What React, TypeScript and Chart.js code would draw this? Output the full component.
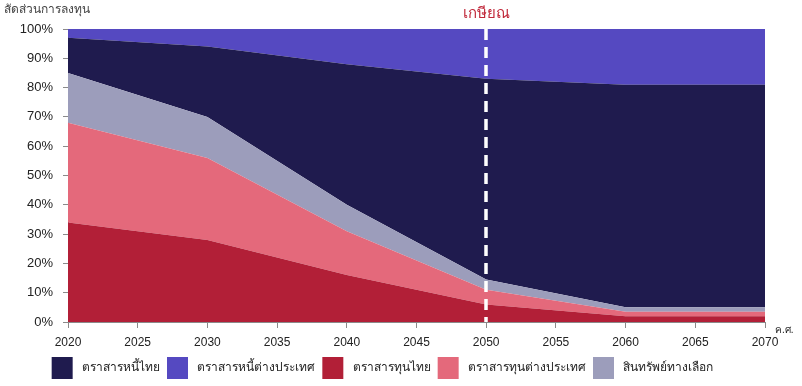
import React, { useEffect, useRef } from "react";
import { Chart, registerables } from "chart.js";

Chart.register(...registerables);

const years = [2020, 2030, 2040, 2050, 2060, 2070];
const thaiEquity = [34, 28, 16, 6, 2, 2];
const foreignEquity = [34, 28, 15, 5, 1.5, 1.5];
const alternative = [17, 14, 9, 3.5, 1.5, 1.5];
const thaiBond = [12, 24, 48, 68.5, 76, 76];
const foreignBond = [3, 6, 12, 17, 19, 19];

const labelThaiBond = "ตราสารหนี้ไทย";
const labelForeignBond = "ตราสารหนี้ต่างประเทศ";
const labelThaiEquity = "ตราสารทุนไทย";
const labelForeignEquity = "ตราสารทุนต่างประเทศ";
const labelAlt = "สินทรัพย์ทางเลือก";

const yTitle = "สัดส่วนการลงทุน";
const xUnit = "ค.ศ.";
const retireLabel = "เกษียณ";
const retireYear = 2050;

const FONT = "'Liberation Sans', 'DejaVu Sans', sans-serif";

export default function App() {
  const ref = useRef<HTMLCanvasElement | null>(null);

  useEffect(() => {
    const canvas = ref.current;
    if (!canvas) return;
    const pts = (arr: number[]) => years.map((x, i) => ({ x, y: arr[i] }));
    // stack order bottom -> top; legend order separately
    const stackDefs = [
      { label: labelThaiEquity, data: thaiEquity, color: "#b21f37", legend: 2 },
      { label: labelForeignEquity, data: foreignEquity, color: "#e4697b", legend: 3 },
      { label: labelAlt, data: alternative, color: "#9c9dbb", legend: 4 },
      { label: labelThaiBond, data: thaiBond, color: "#1f1b4e", legend: 0 },
      { label: labelForeignBond, data: foreignBond, color: "#5549c1", legend: 1 },
    ];
    const datasets = stackDefs.map((d, i) => ({
      label: d.label,
      data: pts(d.data),
      backgroundColor: d.color,
      borderColor: d.color,
      borderWidth: 0,
      pointRadius: 0,
      tension: 0,
      fill: i === 0 ? "origin" : "-1",
    }));

    const overlay = {
      id: "overlay",
      afterDatasetsDraw(chart: any) {
        const { ctx, chartArea, scales } = chart;
        const x = Math.round(scales.x.getPixelForValue(retireYear));
        ctx.save();
        ctx.strokeStyle = "#ffffff";
        ctx.lineWidth = 3.5;
        ctx.setLineDash([11, 7]);
        ctx.beginPath();
        ctx.moveTo(x, chartArea.top);
        ctx.lineTo(x, chartArea.bottom);
        ctx.stroke();
        ctx.restore();
      },
      afterDraw(chart: any) {
        const { ctx, chartArea, scales } = chart;
        const x = scales.x.getPixelForValue(retireYear);
        ctx.save();
        ctx.fillStyle = "#c0283a";
        ctx.font = `15px ${FONT}`;
        ctx.textAlign = "center";
        ctx.textBaseline = "middle";
        ctx.fillText(retireLabel, x, 14);
        ctx.fillStyle = "#444";
        ctx.font = `12px ${FONT}`;
        ctx.textAlign = "left";
        ctx.fillText(yTitle, 4, 10);
        ctx.fillStyle = "#222";
        ctx.font = `10px ${FONT}`;
        ctx.fillText(xUnit, chartArea.right + 10, chartArea.bottom + 8);
        ctx.restore();
      },
    };

    const chart = new Chart(canvas, {
      type: "line",
      data: { datasets: datasets as any },
      plugins: [overlay],
      options: {
        animation: false,
        responsive: false,
        maintainAspectRatio: false,
        layout: { padding: { left: 0, right: 37, top: 29, bottom: -3 } },
        scales: {
          x: {
            type: "linear",
            min: 2020,
            max: 2070,
            afterFit(scale: any) {
              scale.height = 28;
            },
            ticks: {
              stepSize: 5,
              color: "#222",
              font: { family: FONT, size: 12 },
              padding: 7,
              callback: (v: any) => String(v),
            },
            grid: {
              drawOnChartArea: false,
              drawTicks: true,
              tickLength: 6,
              color: "#8a8a8a",
            },
            border: { display: true, color: "#8a8a8a" },
          },
          y: {
            stacked: true,
            min: 0,
            max: 100,
            afterFit(scale: any) {
              scale.width = 68;
            },
            ticks: {
              stepSize: 10,
              color: "#222",
              font: { family: FONT, size: 13 },
              padding: 10,
              callback: (v: any) => v + "%",
            },
            grid: {
              drawOnChartArea: false,
              drawTicks: true,
              tickLength: 5,
              color: "#8a8a8a",
            },
            border: { display: true, color: "#8a8a8a" },
          },
        },
        plugins: {
          tooltip: { enabled: false },
          legend: {
            position: "bottom",
            labels: {
              boxWidth: 21,
              boxHeight: 22,
              padding: 7,
              color: "#222",
              font: { family: FONT, size: 12 },
              generateLabels: (ch: any) =>
                Chart.defaults.plugins.legend.labels
                  .generateLabels(ch)
                  .map((l: any) => ({ ...l, text: " " + l.text, lineWidth: 0 })),
              sort: (a: any, b: any) =>
                stackDefs[a.datasetIndex].legend - stackDefs[b.datasetIndex].legend,
            },
          },
        },
      },
    });
    return () => chart.destroy();
  }, []);

  return (
    <div style={{ position: "absolute", left: 0, top: 0, width: 802, height: 386, background: "#fff" }}>
      <canvas ref={ref} width={802} height={386} style={{ width: 802, height: 386 }} />
    </div>
  );
}
